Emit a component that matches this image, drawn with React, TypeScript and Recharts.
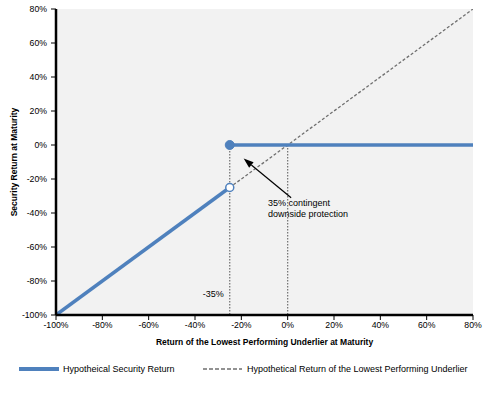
import React from "react";
import {
  CartesianGrid,
  Legend,
  Line,
  LineChart,
  ReferenceDot,
  ReferenceLine,
  XAxis,
  YAxis,
} from "recharts";

const percentTicks = [-100, -80, -60, -40, -20, 0, 20, 40, 60, 80];

// hypothetical security return, below and above the barrier
const lossX = [-100, -25];
const lossY = [-100, -25];
const protectedX = [-25, 80];
const protectedY = [0, 0];

// underlier return (1:1)
const underlierX = [-100, 80];
const underlierY = [-100, 80];

// dotted guides down from the 0% line
const guideX = [-25, 0];

const blue = "#4f81bd";
const grey = "#6f6f6f";
const font = "'Liberation Sans', Arial, sans-serif";

const zip = (xs: number[], ys: number[]) => xs.map((x, i) => ({ x, y: ys[i] }));

const lossData = zip(lossX, lossY);
const protectedData = zip(protectedX, protectedY);
const underlierData = zip(underlierX, underlierY);

const pct = (v: number) => `${v}%`;

function ArrowShape(props: any) {
  const { x1, y1, x2, y2 } = props;
  const ang = Math.atan2(y2 - y1, x2 - x1);
  const len = 10;
  const half = 3.5;
  const bx = x2 - len * Math.cos(ang);
  const by = y2 - len * Math.sin(ang);
  const pts = [
    `${x2},${y2}`,
    `${bx + half * Math.sin(ang)},${by - half * Math.cos(ang)}`,
    `${bx - half * Math.sin(ang)},${by + half * Math.cos(ang)}`,
  ].join(" ");
  return (
    <g>
      <line x1={x1} y1={y1} x2={bx} y2={by} stroke="#000" strokeWidth={1.2} />
      <polygon points={pts} fill="#000" />
    </g>
  );
}

function NoteLabel(props: any) {
  const { x, y } = props.viewBox;
  return (
    <text x={x} y={y} fontSize={9} fontFamily={font} fill="#000">
      <tspan x={x} dy={0}>35% contingent</tspan>
      <tspan x={x} dy={11}>downside protection</tspan>
    </text>
  );
}

function LegendBox() {
  return (
    <svg width={503} height={26} style={{ display: "block" }}>
      <line x1={19} y1={14} x2={59} y2={14} stroke={blue} strokeWidth={4} />
      <text x={63} y={17} fontSize={9} fontFamily={font} fill="#000">
        Hypotheical Security Return
      </text>
      <line x1={203} y1={14} x2={242} y2={14} stroke={grey} strokeWidth={1.3} strokeDasharray="4 2" />
      <text x={247} y={17} fontSize={9} fontFamily={font} fill="#000">
        Hypothetical Return of the Lowest Performing Underlier
      </text>
    </svg>
  );
}

const tickStyle = { fontSize: 8.7, fill: "#000", fontFamily: font };

export default function App() {
  return (
    <div style={{ position: "absolute", left: 0, top: 0, background: "#fff" }}>
      <LineChart
        width={503}
        height={401}
        margin={{ top: 9, right: 30, left: 0, bottom: 20 }}
      >
        <CartesianGrid fill="#f2f2f2" horizontal={false} vertical={false} />
        <XAxis
          type="number"
          dataKey="x"
          domain={[-100, 80]}
          ticks={percentTicks}
          allowDataOverflow
          tickFormatter={pct}
          tick={tickStyle}
          tickSize={5}
          tickMargin={2}
          height={40}
          axisLine={{ stroke: "#000", strokeWidth: 2.5 }}
          tickLine={{ stroke: "#000" }}
          label={{
            value: "Return of the Lowest Performing Underlier at Maturity",
            position: "insideBottom",
            offset: 10,
            style: { fontSize: 8.5, fontWeight: "bold", fill: "#000", fontFamily: font },
          }}
        />
        <YAxis
          type="number"
          dataKey="y"
          domain={[-100, 80]}
          ticks={percentTicks}
          allowDataOverflow
          tickFormatter={pct}
          tick={tickStyle}
          tickSize={5}
          tickMargin={4}
          width={56}
          axisLine={{ stroke: "#000", strokeWidth: 2.5 }}
          tickLine={{ stroke: "#000" }}
          label={{
            value: "Security Return at Maturity",
            angle: -90,
            position: "insideLeft",
            offset: 14,
            style: {
              textAnchor: "middle",
              fontSize: 8.5,
              fontWeight: "bold",
              fill: "#000",
              fontFamily: font,
            },
          }}
        />
        {guideX.map((gx) => (
          <ReferenceLine
            key={gx}
            segment={[
              { x: gx, y: 0 },
              { x: gx, y: -100 },
            ]}
            stroke={grey}
            strokeWidth={1.2}
            strokeDasharray="1.5 1.5"
          />
        ))}
        <Line
          data={underlierData}
          dataKey="y"
          type="linear"
          stroke={grey}
          strokeWidth={1.3}
          strokeDasharray="3 2"
          dot={false}
          activeDot={false}
          isAnimationActive={false}
          legendType="none"
        />
        <Line
          data={lossData}
          dataKey="y"
          type="linear"
          stroke={blue}
          strokeWidth={3.5}
          activeDot={false}
          isAnimationActive={false}
          dot={(p: any) =>
            p.index === lossData.length - 1 ? (
              <circle key={p.index} cx={p.cx} cy={p.cy} r={4} fill="#fff" stroke={blue} strokeWidth={1.5} />
            ) : (
              <g key={p.index} />
            )
          }
        />
        <Line
          data={protectedData}
          dataKey="y"
          type="linear"
          stroke={blue}
          strokeWidth={3.5}
          activeDot={false}
          isAnimationActive={false}
          dot={(p: any) =>
            p.index === 0 ? (
              <circle key={p.index} cx={p.cx} cy={p.cy} r={4.5} fill={blue} stroke={blue} />
            ) : (
              <g key={p.index} />
            )
          }
        />
        <ReferenceLine
          segment={[
            { x: 1.5, y: -31 },
            { x: -19, y: -8 },
          ]}
          shape={ArrowShape}
        />
        <ReferenceDot x={-8.5} y={-36} r={0} fill="none" stroke="none" label={{ content: NoteLabel }} />
        <ReferenceDot
          x={-25}
          y={-87.5}
          r={0}
          fill="none"
          stroke="none"
          label={{
            value: "-35%",
            position: "left",
            offset: 6,
            style: { fontSize: 9, fill: "#000", fontFamily: font },
          }}
        />
        <Legend
          verticalAlign="bottom"
          height={26}
          content={() => <LegendBox />}
          wrapperStyle={{ left: 0, width: 503 }}
        />
      </LineChart>
    </div>
  );
}
